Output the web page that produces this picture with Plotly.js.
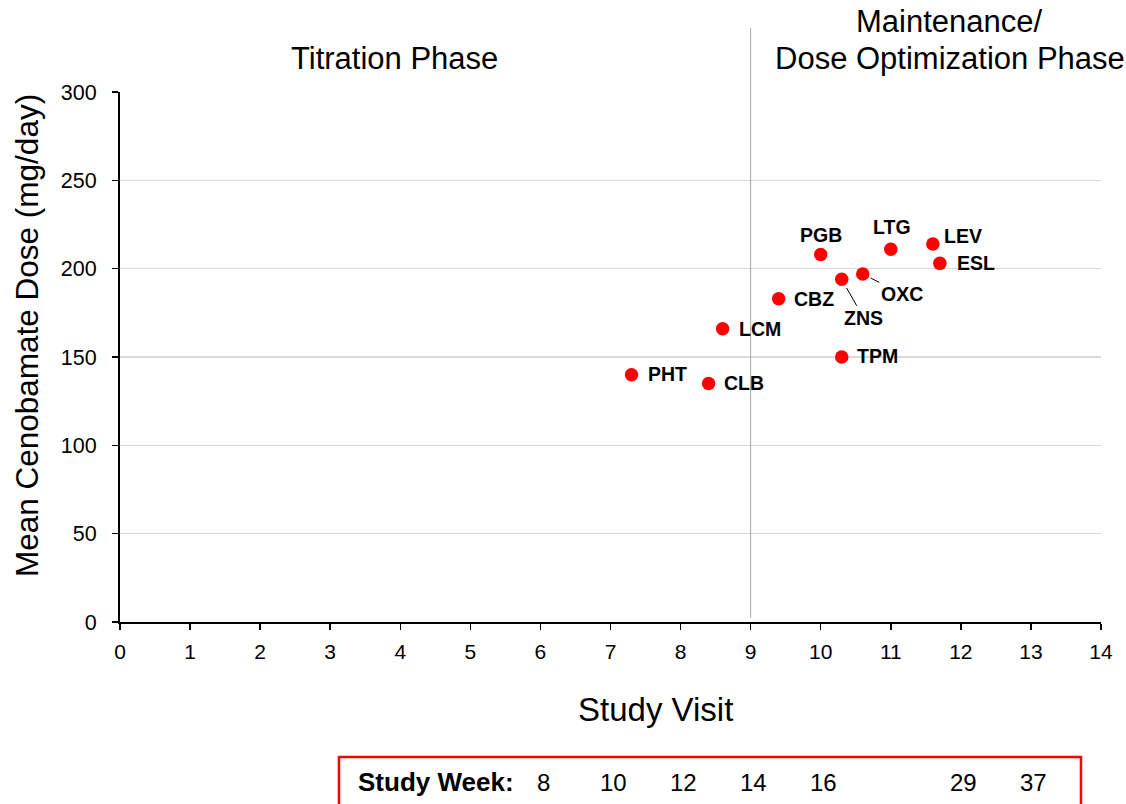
<!DOCTYPE html>
<html>
<head>
<meta charset="utf-8">
<script src="https://cdn.plot.ly/plotly-3.0.1.min.js"></script>
<style>html,body{margin:0;padding:0;background:#fff;}#chart{width:1126px;height:804px;}</style>
</head>
<body>
<div id="chart"></div>
<script>
// Data
const drugs = ["PHT","CLB","LCM","CBZ","PGB","ZNS","OXC","TPM","LTG","LEV","ESL"];
const studyVisit = [7.3, 8.4, 8.6, 9.4, 10.0, 10.3, 10.6, 10.3, 11.0, 11.6, 11.7];
const meanDose = [140, 135, 166, 183, 208, 194, 197, 150, 211, 214, 203];
const weekVisit = [6, 7, 8, 9, 10, 12, 13];
const weekLabel = ["8", "10", "12", "14", "16", "29", "37"];
const phaseBoundary = 9;

// label placement per drug (pixel offsets)
const labelPos = {
  PHT: {xanchor:"left", xshift:14, yshift:1},
  CLB: {xanchor:"left", xshift:13, yshift:1},
  LCM: {xanchor:"left", xshift:14, yshift:0},
  CBZ: {xanchor:"left", xshift:13, yshift:0},
  PGB: {xanchor:"center", xshift:0, yshift:20},
  TPM: {xanchor:"left", xshift:13, yshift:1},
  LTG: {xanchor:"center", xshift:1, yshift:22},
  LEV: {xanchor:"left", xshift:9, yshift:8},
  ESL: {xanchor:"left", xshift:15, yshift:0}
};
const arrowPos = {
  ZNS: {ax:22, ay:39, standoff:10},
  OXC: {ax:39, ay:20, standoff:9}
};

const FONT = "Arial, 'Liberation Sans', sans-serif";
const annotations = [];
drugs.forEach((d, i) => {
  if (labelPos[d]) {
    const p = labelPos[d];
    annotations.push({x: studyVisit[i], y: meanDose[i], xref:"x", yref:"y", text: "<b>"+d+"</b>",
      showarrow:false, xanchor:p.xanchor, yanchor:"middle", xshift:p.xshift, yshift:p.yshift,
      font:{family:FONT, size:19.5, color:"#000"}});
  } else if (arrowPos[d]) {
    const p = arrowPos[d];
    annotations.push({x: studyVisit[i], y: meanDose[i], xref:"x", yref:"y", text: "<b>"+d+"</b>",
      showarrow:true, arrowhead:0, arrowwidth:1, arrowcolor:"#000", ax:p.ax, ay:p.ay, standoff:p.standoff,
      font:{family:FONT, size:19.5, color:"#000"}});
  }
});
// axis titles (placed as annotations to match the original offsets)
annotations.push({xref:"paper", yref:"paper", x:0.5454, y:-0.166, text:"Study Visit", showarrow:false,
  xanchor:"center", yanchor:"middle", font:{family:FONT, size:33, color:"#000"}});
annotations.push({xref:"paper", yref:"paper", x:-0.0945, y:0.540, text:"Mean Cenobamate Dose (mg/day)", showarrow:false,
  textangle:-90, xanchor:"center", yanchor:"middle", font:{family:FONT, size:31.5, color:"#000"}});
// phase titles
annotations.push({xref:"paper", yref:"paper", x:0.2803, y:1.064, text:"Titration Phase", showarrow:false,
  xanchor:"center", yanchor:"middle", font:{family:FONT, size:31, color:"#000"}});
annotations.push({xref:"paper", yref:"paper", x:0.846, y:1.133, text:"Maintenance/", showarrow:false,
  xanchor:"center", yanchor:"middle", font:{family:FONT, size:31, color:"#000"}});
annotations.push({xref:"paper", yref:"paper", x:0.846, y:1.064, text:"Dose Optimization Phase", showarrow:false,
  xanchor:"center", yanchor:"middle", font:{family:FONT, size:31, color:"#000"}});
// study week row
annotations.push({xref:"paper", yref:"paper", x:0.2406, y:-0.302, text:"<b>Study Week:</b>", showarrow:false,
  xanchor:"left", yanchor:"middle", font:{family:FONT, size:26, color:"#000"}});
weekVisit.forEach((v, i) => {
  annotations.push({xref:"x", yref:"paper", x:v, y:-0.302, text:weekLabel[i], showarrow:false,
    xanchor:"center", yanchor:"middle", xshift:3, font:{family:FONT, size:24, color:"#000"}});
});

const trace = {
  x: studyVisit, y: meanDose, text: drugs, type:"scatter", mode:"markers",
  marker:{color:"#ff0000", size:13.5}, hoverinfo:"text+x+y", cliponaxis:false
};

const layout = {
  width:1126, height:804,
  margin:{l:120, r:25, t:92, b:182},
  paper_bgcolor:"#fff", plot_bgcolor:"#fff",
  showlegend:false,
  font:{family:FONT, color:"#000"},
  xaxis:{
    range:[0,14], dtick:1, tick0:0, showgrid:false, zeroline:false,
    showline:true, linecolor:"#000", linewidth:2,
    ticks:"outside", ticklen:6, tickwidth:1.5, tickcolor:"#000",
    tickfont:{family:FONT, size:21, color:"#000"}, ticklabelstandoff:4,
    automargin:false, fixedrange:true
  },
  yaxis:{
    range:[0,300], dtick:50, tick0:0, showgrid:true, gridcolor:"#d9d9d9", gridwidth:1.5, zeroline:false,
    showline:true, linecolor:"#000", linewidth:2,
    ticks:"outside", ticklen:6, tickwidth:1.5, tickcolor:"#000",
    tickfont:{family:FONT, size:21.5, color:"#000"}, ticklabelstandoff:11,
    automargin:false, fixedrange:true
  },
  shapes:[
    {type:"line", xref:"x", yref:"paper", x0:phaseBoundary, x1:phaseBoundary, y0:0.008, y1:1.1208,
      line:{color:"#a6a6a6", width:1}, layer:"above"},
    {type:"rect", xref:"paper", yref:"paper", x0:0.2232, x1:0.9796, y0:-0.2547, y1:-0.37,
      line:{color:"#ff0000", width:2.5}, fillcolor:"rgba(0,0,0,0)"}
  ],
  annotations: annotations
};

Plotly.newPlot("chart", [trace], layout, {displayModeBar:false, staticPlot:true});
</script>
</body>
</html>
